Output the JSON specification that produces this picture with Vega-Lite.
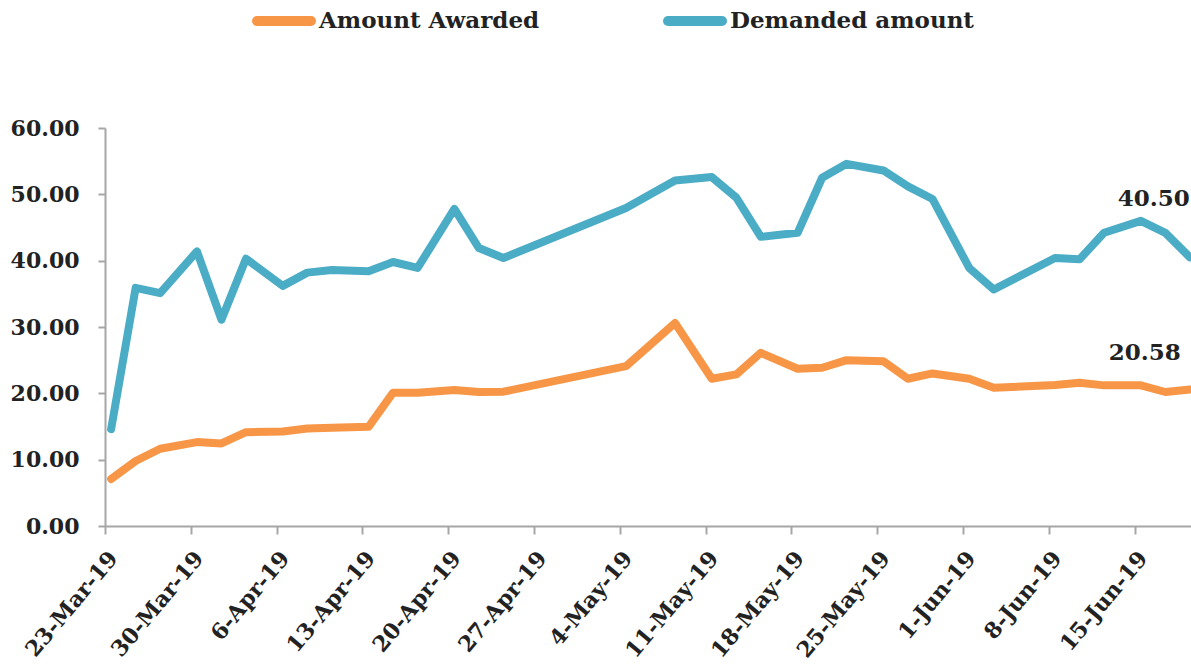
{
  "$schema": "https://vega.github.io/schema/vega-lite/v6.json",
  "width": 1091,
  "height": 398,
  "autosize": {"type": "none"},
  "padding": {"left": 105, "top": 128, "right": 0, "bottom": 141},
  "background": "white",
  "config": {
    "view": {"stroke": null},
    "font": "DejaVu Serif",
    "axis": {
      "grid": false,
      "domainColor": "#a6a6a6",
      "domainWidth": 2,
      "tickColor": "#a6a6a6",
      "tickWidth": 2,
      "labelFont": "DejaVu Serif",
      "labelFontSize": 22,
      "labelFontWeight": "bold",
      "labelColor": "#222222",
      "title": null
    }
  },
  "data": {
    "values": [
      {"date": "2019-03-23", "Amount Awarded": 7.1, "Demanded amount": 14.6},
      {"date": "2019-03-25", "Amount Awarded": 9.8, "Demanded amount": 35.9},
      {"date": "2019-03-27", "Amount Awarded": 11.65, "Demanded amount": 35.1},
      {"date": "2019-03-30", "Amount Awarded": 12.65, "Demanded amount": 41.4},
      {"date": "2019-04-01", "Amount Awarded": 12.45, "Demanded amount": 31.1},
      {"date": "2019-04-03", "Amount Awarded": 14.15, "Demanded amount": 40.3},
      {"date": "2019-04-06", "Amount Awarded": 14.25, "Demanded amount": 36.2},
      {"date": "2019-04-08", "Amount Awarded": 14.7, "Demanded amount": 38.2},
      {"date": "2019-04-10", "Amount Awarded": 14.8, "Demanded amount": 38.6},
      {"date": "2019-04-13", "Amount Awarded": 14.95, "Demanded amount": 38.4},
      {"date": "2019-04-15", "Amount Awarded": 20.1, "Demanded amount": 39.8},
      {"date": "2019-04-17", "Amount Awarded": 20.1, "Demanded amount": 38.9},
      {"date": "2019-04-20", "Amount Awarded": 20.5, "Demanded amount": 47.8},
      {"date": "2019-04-22", "Amount Awarded": 20.2, "Demanded amount": 41.9},
      {"date": "2019-04-24", "Amount Awarded": 20.25, "Demanded amount": 40.4},
      {"date": "2019-05-04", "Amount Awarded": 24.1, "Demanded amount": 47.95},
      {"date": "2019-05-08", "Amount Awarded": 30.6, "Demanded amount": 52.1},
      {"date": "2019-05-11", "Amount Awarded": 22.2, "Demanded amount": 52.6},
      {"date": "2019-05-13", "Amount Awarded": 22.85, "Demanded amount": 49.5},
      {"date": "2019-05-15", "Amount Awarded": 26.1, "Demanded amount": 43.6},
      {"date": "2019-05-18", "Amount Awarded": 23.7, "Demanded amount": 44.2},
      {"date": "2019-05-20", "Amount Awarded": 23.85, "Demanded amount": 52.5},
      {"date": "2019-05-22", "Amount Awarded": 25.0, "Demanded amount": 54.6},
      {"date": "2019-05-25", "Amount Awarded": 24.85, "Demanded amount": 53.6},
      {"date": "2019-05-27", "Amount Awarded": 22.2, "Demanded amount": 51.2},
      {"date": "2019-05-29", "Amount Awarded": 23.0, "Demanded amount": 49.3},
      {"date": "2019-06-01", "Amount Awarded": 22.2, "Demanded amount": 38.9},
      {"date": "2019-06-03", "Amount Awarded": 20.85, "Demanded amount": 35.65},
      {"date": "2019-06-08", "Amount Awarded": 21.25, "Demanded amount": 40.4},
      {"date": "2019-06-10", "Amount Awarded": 21.6, "Demanded amount": 40.2},
      {"date": "2019-06-12", "Amount Awarded": 21.2, "Demanded amount": 44.2},
      {"date": "2019-06-15", "Amount Awarded": 21.2, "Demanded amount": 46.0},
      {"date": "2019-06-17", "Amount Awarded": 20.2, "Demanded amount": 44.2},
      {"date": "2019-06-19", "Amount Awarded": 20.58, "Demanded amount": 40.5}
    ]
  },
  "transform": [
    {"fold": ["Amount Awarded", "Demanded amount"], "as": ["series", "value"]}
  ],
  "encoding": {
    "x": {
      "field": "date",
      "type": "temporal",
      "timeUnit": "utcyearmonthdate",
      "bandPosition": 0.5,
      "scale": {
        "type": "utc",
        "domain": [
          {"year": 2019, "month": 3, "date": 23, "utc": true},
          {"year": 2019, "month": 6, "date": 20, "utc": true}
        ]
      },
      "axis": {
        "values": [
          {"year": 2019, "month": 3, "date": 23, "utc": true},
          {"year": 2019, "month": 3, "date": 30, "utc": true},
          {"year": 2019, "month": 4, "date": 6, "utc": true},
          {"year": 2019, "month": 4, "date": 13, "utc": true},
          {"year": 2019, "month": 4, "date": 20, "utc": true},
          {"year": 2019, "month": 4, "date": 27, "utc": true},
          {"year": 2019, "month": 5, "date": 4, "utc": true},
          {"year": 2019, "month": 5, "date": 11, "utc": true},
          {"year": 2019, "month": 5, "date": 18, "utc": true},
          {"year": 2019, "month": 5, "date": 25, "utc": true},
          {"year": 2019, "month": 6, "date": 1, "utc": true},
          {"year": 2019, "month": 6, "date": 8, "utc": true},
          {"year": 2019, "month": 6, "date": 15, "utc": true}
        ],
        "format": "%-d-%b-%y",
        "labelAngle": -50,
        "tickSize": 8,
        "labelPadding": 20,
        "labelOffset": 8,
        "labelOverlap": false
      }
    },
    "y": {
      "field": "value",
      "type": "quantitative",
      "scale": {"domain": [0, 60], "nice": false},
      "axis": {
        "values": [0, 10, 20, 30, 40, 50, 60],
        "format": ".2f",
        "tickSize": 7,
        "labelPadding": 19
      }
    }
  },
  "layer": [
    {
      "mark": {"type": "line", "strokeWidth": 8, "strokeCap": "round", "strokeJoin": "round"},
      "encoding": {
        "color": {
          "field": "series",
          "type": "nominal",
          "scale": {"domain": ["Amount Awarded", "Demanded amount"], "range": ["#F79646", "#4BACC6"]},
          "legend": {
            "title": null,
            "orient": "none",
            "direction": "horizontal",
            "legendX": 147,
            "legendY": -139,
            "padding": 0,
            "symbolType": "stroke",
            "symbolSize": 2916,
            "symbolStrokeWidth": 10,
            "labelFont": "DejaVu Serif",
            "labelFontSize": 23,
            "labelFontWeight": "bold",
            "labelColor": "#222222",
            "labelOffset": 3,
            "columnPadding": 108,
            "labelLimit": 400,
            "encode": {"symbols": {"update": {"strokeCap": {"value": "round"}}}}
          }
        }
      }
    },
    {
      "transform": [
        {"filter": {"field": "date", "timeUnit": "utcyearmonthdate", "equal": {"year": 2019, "month": 6, "date": 19, "utc": true}}},
        {"filter": "datum.series === 'Demanded amount'"}
      ],
      "mark": {"type": "text", "font": "DejaVu Serif", "fontSize": 23, "fontWeight": "bold", "color": "#222222", "align": "center", "baseline": "middle", "dx": -36, "dy": -58},
      "encoding": {"text": {"field": "value", "type": "quantitative", "format": ".2f"}}
    },
    {
      "transform": [
        {"filter": {"field": "date", "timeUnit": "utcyearmonthdate", "equal": {"year": 2019, "month": 6, "date": 19, "utc": true}}},
        {"filter": "datum.series === 'Amount Awarded'"}
      ],
      "mark": {"type": "text", "font": "DejaVu Serif", "fontSize": 23, "fontWeight": "bold", "color": "#222222", "align": "center", "baseline": "middle", "dx": -45, "dy": -36},
      "encoding": {"text": {"field": "value", "type": "quantitative", "format": ".2f"}}
    }
  ]
}
